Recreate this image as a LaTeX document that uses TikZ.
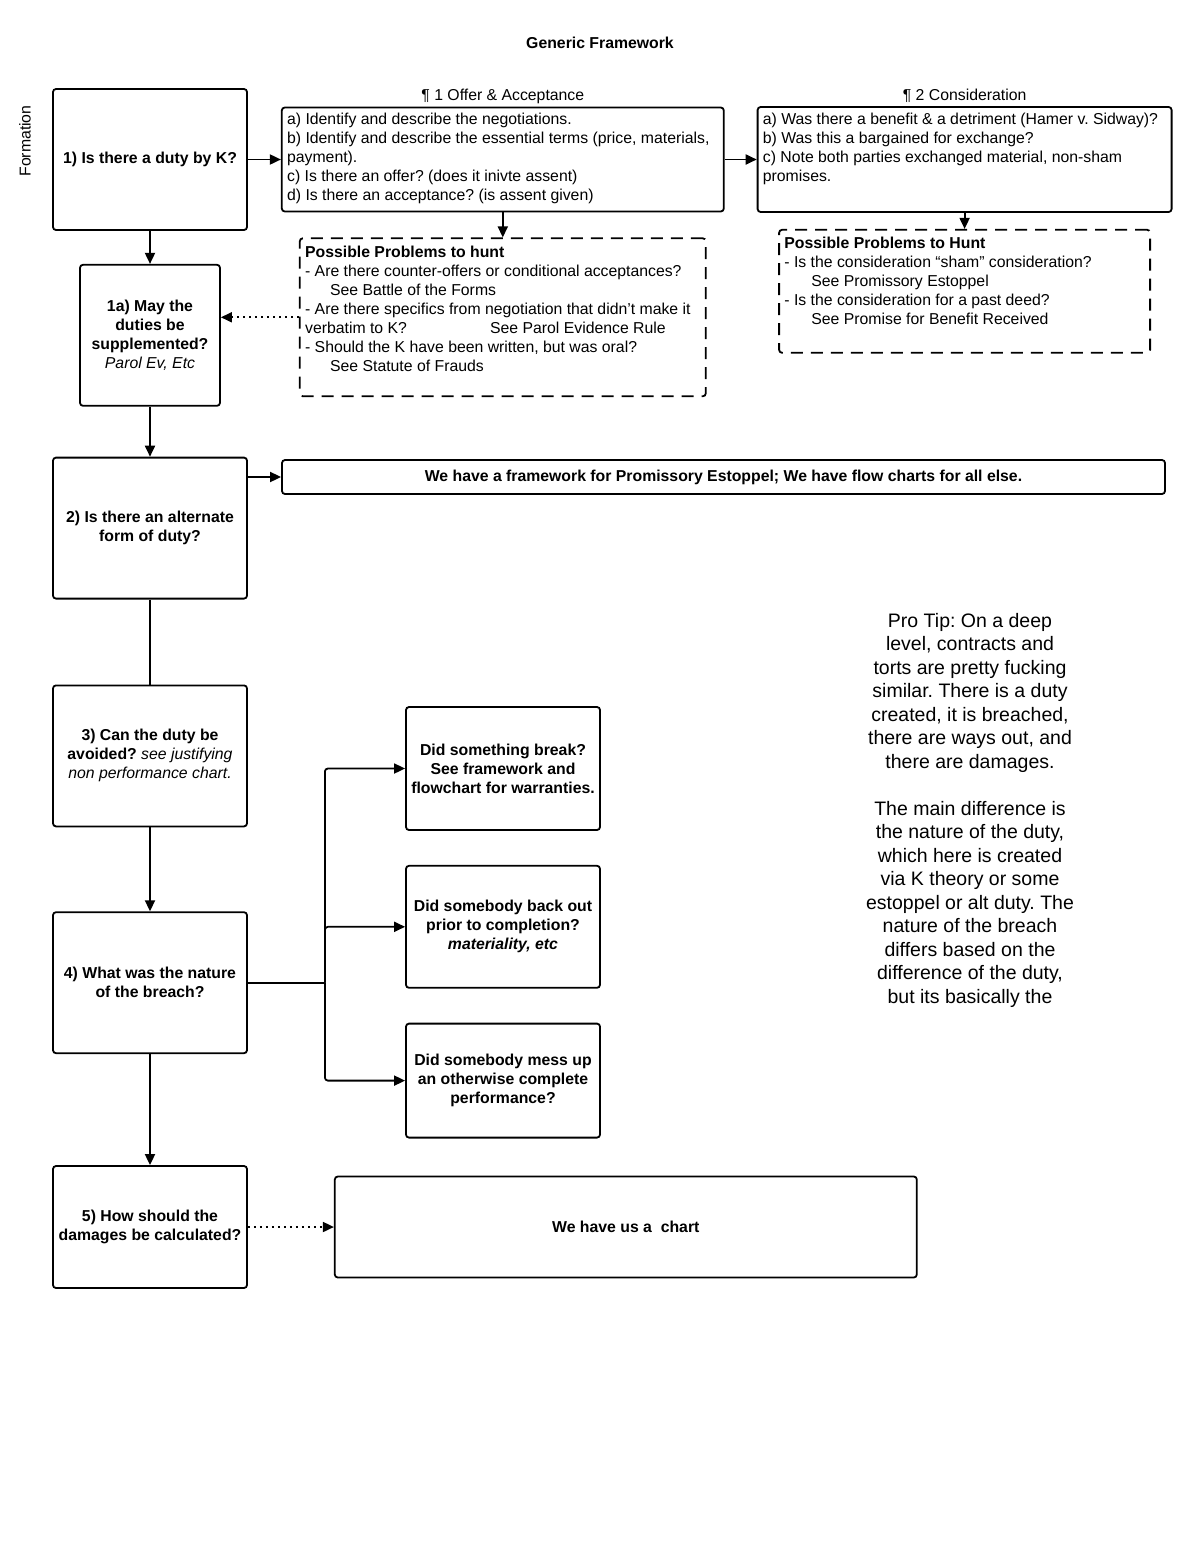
\documentclass[tikz,border=0pt]{standalone}
\usepackage{fontspec}
\setmainfont{Liberation Sans}
\usepackage{tikz}
\usetikzlibrary{positioning}
\usetikzlibrary{arrows.meta}
\frenchspacing
\newcommand{\bodyfont}{\fontsize{15.8}{19}\selectfont}
\newcommand{\tipfont}{\fontsize{19.5}{23.5}\selectfont}
\newcommand{\widthquestion}{194pt}
\newcommand{\heightquestion}{141pt}
\newcommand{\widthoutcome}{194pt}
\tikzset{
    common/.style={draw, rectangle, rounded corners=3pt, line width=1.8pt, align=center, inner sep=2pt, font=\bodyfont\bfseries},
    question/.style={common, minimum width=\widthquestion, minimum height=\heightquestion},
    outcome/.style={common, minimum width=\widthoutcome},
    listbox/.style={common, font=\bodyfont},
    probbox/.style={listbox, dash pattern=on 12pt off 8pt},
    listtext/.style={anchor=north west, inner sep=0pt, align=left, font=\bodyfont},
    heading/.style={font=\bodyfont, inner sep=3pt},
    flow/.style={->, line width=1.8pt},
    hint/.style={->, line width=1.8pt, dash pattern=on 2pt off 4pt}
}

\begin{document}
\begin{tikzpicture}[x=1pt, y=-1pt, >={Triangle[length=11pt, width=10pt]}]
  \useasboundingbox (0,0) rectangle (1200,1553);

  \node[font=\bodyfont\bfseries] (title) at (600,43) {Generic Framework};
  \node[font=\bodyfont, rotate=90] (formation) at (25,141) {Formation};

  % formation
  \node[question] (q1) at (150,159.5) {1) Is there a duty by K?};
  \node[listbox, minimum width=442pt, minimum height=104pt, right=33pt of q1,
        label={[heading]above:{\P\ 1 Offer \& Acceptance}}] (offer) {};
  \node[listtext, below right=6pt and 6pt of offer.north west] (offer-text)
    {a) Identify and describe the negotiations.\\
     b) Identify and describe the essential terms (price, materials,\\
     payment).\\
     c) Is there an offer? (does it inivte assent)\\
     d) Is there an acceptance? (is assent given)};
  \node[listbox, minimum width=414pt, minimum height=105pt, right=32pt of offer,
        label={[heading]above:{\P\ 2 Consideration}}] (consid) {};
  \node[listtext, below right=6.5pt and 6pt of consid.north west] (consid-text)
    {a) Was there a benefit \& a detriment (Hamer v. Sidway)?\\
     b) Was this a bargained for exchange?\\
     c) Note both parties exchanged material, non-sham\\
     promises.};

  \node[probbox, minimum width=406pt, minimum height=158pt, below=25pt of offer] (offer-problems) {};
  \node[listtext, below right=8pt and 6pt of offer-problems.north west] (offer-problems-text)
    {\textbf{Possible Problems to hunt}\\
     - Are there counter-offers or conditional acceptances?\\
     \hspace*{25pt}See Battle of the Forms\\
     - Are there specifics from negotiation that didn't make it\\
     \makebox[185pt][l]{verbatim to K?}See Parol Evidence Rule\\
     - Should the K have been written, but was oral?\\
     \hspace*{25pt}See Statute of Frauds};
  \node[probbox, minimum width=371pt, minimum height=123pt, below=16pt of consid] (consid-problems) {};
  \node[listtext, below right=8pt and 6pt of consid-problems.north west] (consid-problems-text)
    {\textbf{Possible Problems to Hunt}\\
     - Is the consideration ``sham'' consideration?\\
     \hspace*{27pt}See Promissory Estoppel\\
     - Is the consideration for a past deed?\\
     \hspace*{27pt}See Promise for Benefit Received};

  \node[common, minimum width=140pt, minimum height=141pt, below=33pt of q1] (q1a)
    {1a) May the\\ duties be\\ supplemented?\\ {\mdseries\itshape Parol Ev, Etc}};

  % alternate duty, avoidance, breach, damages
  \node[question, below=50pt of q1a] (q2) {2) Is there an alternate\\ form of duty?};
  \node[common, minimum width=883pt, minimum height=34pt] (alt-note) at (723.5,477)
    {We have a framework for Promissory Estoppel; We have flow charts for all else.};
  \node[question, below=85pt of q2] (q3)
    {3) Can the duty be\\ avoided? {\mdseries\itshape see justifying}\\ {\mdseries\itshape non performance chart.}};
  \node[question, below=84pt of q3] (q4) {4) What was the nature\\ of the breach?};
  \node[question, minimum height=122pt, below=111pt of q4] (q5) {5) How should the\\ damages be calculated?};

  \node[outcome, minimum height=123pt] (break) at (503,768.5)
    {Did something break?\\ See framework and\\ flowchart for warranties.};
  \node[outcome, minimum height=122pt, below=34pt of break] (backout)
    {Did somebody back out\\ prior to completion?\\ {\itshape materiality, etc}};
  \node[outcome, minimum height=114pt, below=34pt of backout] (messup)
    {Did somebody mess up\\ an otherwise complete\\ performance?};
  \node[common, minimum width=582pt, minimum height=101pt, right=86pt of q5] (damages-chart)
    {We have us a\ \ chart};

  \node[font=\tipfont, align=center] (pro-tip) at (970,810)
    {Pro Tip: On a deep\\ level, contracts and\\ torts are pretty fucking\\ similar. There is a duty\\
     created, it is breached,\\ there are ways out, and\\ there are damages.\\[23.5pt]
     The main difference is\\ the nature of the duty,\\ which here is created\\ via K theory or some\\
     estoppel or alt duty. The\\ nature of the breach\\ differs based on the\\ difference of the duty,\\
     but its basically the};

  \draw[flow] (q1) -- (offer);
  \draw[flow] (offer) -- (consid);
  \draw[flow] (offer) -- (offer-problems);
  \draw[flow] (consid) -- (consid-problems);
  \draw[hint] (offer-problems.west) -- (offer-problems.west -| q1a.east);
  \draw[flow] (q1) -- (q1a);
  \draw[flow] (q1a) -- (q2);
  \draw[flow] (q2.east |- alt-note.west) -- (alt-note.west);
  \draw[line width=1.8pt] (q2) -- (q3);
  \draw[flow] (q3) -- (q4);
  \draw[flow] (q4) -- (q5);
  \draw[line width=1.8pt] (q4.east) -- ++(77,0) coordinate (split);
  \draw[flow, rounded corners=3pt] (split) |- (break.west);
  \draw[flow, rounded corners=3pt] (split) |- (backout.west);
  \draw[flow, rounded corners=3pt] (split) |- (messup.west);
  \draw[hint] (q5) -- (damages-chart);
\end{tikzpicture}
\end{document}
